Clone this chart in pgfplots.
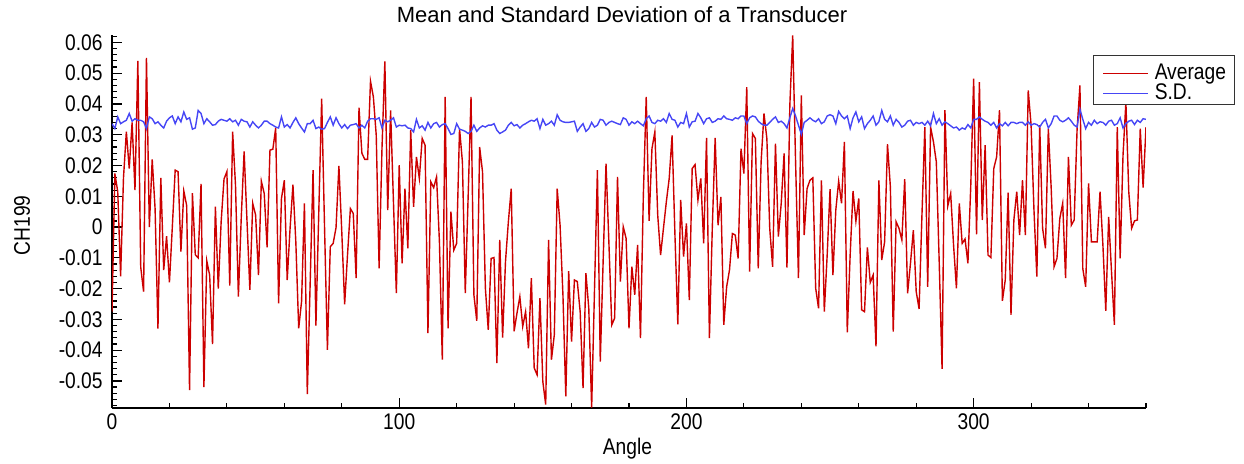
\documentclass[border=0pt]{standalone}
\usepackage{fontspec}
\setmainfont{Liberation Sans}[FakeStretch=0.85]
\newfontfamily\titlefont{Liberation Sans}
\usepackage{pgfplots}
\usepackage{pgfplotstable}
\pgfplotsset{compat=1.18}
\definecolor{avgred}{RGB}{204,0,0}
\definecolor{sdblue}{RGB}{70,70,245}
\pgfplotstableread{
a avg sd
0 -0.0275 0.0336
1 0.0174 0.0320
2 0.0115 0.0358
3 -0.0160 0.0336
4 0.0160 0.0342
5 0.0310 0.0347
6 0.0190 0.0369
7 0.0340 0.0344
8 0.0120 0.0352
9 0.0540 0.0347
10 -0.0130 0.0347
11 -0.0210 0.0342
12 0.0550 0.0320
13 0.0000 0.0358
14 0.0220 0.0352
15 0.0060 0.0336
16 -0.0330 0.0342
17 0.0160 0.0331
18 -0.0140 0.0322
19 -0.0030 0.0344
20 -0.0180 0.0355
21 0.0000 0.0361
22 0.0185 0.0336
23 0.0180 0.0358
24 -0.0080 0.0342
25 0.0117 0.0374
26 0.0070 0.0350
27 -0.0530 0.0355
28 0.0110 0.0318
29 -0.0090 0.0322
30 -0.0100 0.0379
31 0.0140 0.0369
32 -0.0520 0.0336
33 -0.0110 0.0352
34 -0.0156 0.0342
35 -0.0380 0.0331
36 0.0066 0.0333
37 -0.0200 0.0344
38 0.0017 0.0350
39 0.0156 0.0347
40 0.0180 0.0344
41 -0.0190 0.0352
42 0.0310 0.0342
43 0.0136 0.0347
44 -0.0226 0.0331
45 0.0030 0.0350
46 0.0246 0.0344
47 0.0020 0.0342
48 -0.0204 0.0325
49 0.0077 0.0342
50 0.0039 0.0331
51 -0.0156 0.0322
52 0.0149 0.0331
53 0.0109 0.0344
54 -0.0066 0.0344
55 0.0250 0.0336
56 0.0253 0.0331
57 0.0322 0.0325
58 -0.0248 0.0322
59 0.0093 0.0358
60 0.0152 0.0325
61 -0.0172 0.0333
62 -0.0004 0.0322
63 0.0138 0.0340
64 -0.0048 0.0355
65 -0.0329 0.0336
66 -0.0242 0.0322
67 0.0077 0.0309
68 -0.0543 0.0336
69 -0.0180 0.0336
70 0.0185 0.0347
71 -0.0320 0.0320
72 0.0050 0.0325
73 0.0417 0.0318
74 0.0000 0.0320
75 -0.0399 0.0340
76 -0.0064 0.0358
77 -0.0053 0.0331
78 -0.0002 0.0355
79 0.0199 0.0336
80 -0.0015 0.0322
81 -0.0251 0.0333
82 -0.0090 0.0320
83 0.0060 0.0331
84 0.0044 0.0333
85 -0.0166 0.0336
86 0.0388 0.0322
87 0.0240 0.0331
88 0.0220 0.0322
89 0.0220 0.0344
90 0.0474 0.0352
91 0.0423 0.0352
92 0.0298 0.0350
93 -0.0134 0.0355
94 0.0255 0.0322
95 0.0538 0.0347
96 0.0055 0.0342
97 0.0379 0.0347
98 0.0080 0.0355
99 -0.0215 0.0325
100 0.0201 0.0331
101 -0.0118 0.0329
102 0.0125 0.0331
103 -0.0069 0.0322
104 0.0315 0.0320
105 0.0066 0.0309
106 0.0228 0.0350
107 0.0158 0.0322
108 0.0288 0.0329
109 0.0266 0.0315
110 -0.0345 0.0340
111 0.0147 0.0322
112 0.0128 0.0336
113 0.0163 0.0340
114 -0.0048 0.0325
115 -0.0431 0.0333
116 0.0423 0.0336
117 -0.0329 0.0320
118 0.0050 0.0301
119 -0.0075 0.0304
120 -0.0053 0.0336
121 0.0320 0.0318
122 0.0212 0.0315
123 -0.0215 0.0311
124 0.0100 0.0304
125 0.0423 0.0311
126 -0.0220 0.0331
127 -0.0305 0.0311
128 0.0260 0.0322
129 0.0180 0.0329
130 -0.0199 0.0325
131 -0.0334 0.0331
132 -0.0102 0.0331
133 -0.0099 0.0336
134 -0.0442 0.0315
135 -0.0042 0.0304
136 -0.0359 0.0309
137 -0.0112 0.0315
138 0.0017 0.0331
139 0.0125 0.0340
140 -0.0339 0.0329
141 -0.0280 0.0333
142 -0.0226 0.0322
143 -0.0323 0.0331
144 -0.0275 0.0336
145 -0.0394 0.0342
146 -0.0166 0.0347
147 -0.0458 0.0344
148 -0.0480 0.0352
149 -0.0231 0.0320
150 -0.0502 0.0350
151 -0.0577 0.0331
152 -0.0042 0.0336
153 -0.0431 0.0344
154 -0.0350 0.0331
155 0.0125 0.0365
156 0.0006 0.0347
157 -0.0220 0.0342
158 -0.0550 0.0340
159 -0.0143 0.0340
160 -0.0372 0.0342
161 -0.0172 0.0344
162 -0.0177 0.0311
163 -0.0275 0.0325
164 -0.0523 0.0336
165 -0.0150 0.0311
166 -0.0264 0.0320
167 -0.0587 0.0340
168 -0.0200 0.0325
169 0.0185 0.0331
170 -0.0437 0.0350
171 -0.0110 0.0347
172 0.0206 0.0331
173 -0.0050 0.0340
174 -0.0318 0.0344
175 -0.0296 0.0340
176 0.0163 0.0336
177 -0.0177 0.0333
178 0.0001 0.0355
179 -0.0037 0.0350
180 -0.0329 0.0331
181 -0.0129 0.0342
182 -0.0220 0.0336
183 -0.0058 0.0344
184 -0.0361 0.0336
185 0.0104 0.0329
186 0.0423 0.0352
187 0.0020 0.0361
188 0.0255 0.0340
189 0.0309 0.0336
190 0.0039 0.0347
191 -0.0091 0.0344
192 -0.0004 0.0352
193 0.0082 0.0340
194 0.0158 0.0369
195 0.0298 0.0350
196 -0.0026 0.0347
197 -0.0316 0.0325
198 0.0088 0.0340
199 -0.0096 0.0336
200 0.0012 0.0369
201 -0.0237 0.0325
202 0.0190 0.0342
203 0.0203 0.0344
204 0.0088 0.0369
205 0.0158 0.0355
206 -0.0053 0.0336
207 0.0290 0.0352
208 -0.0361 0.0355
209 -0.0004 0.0340
210 0.0290 0.0344
211 0.0006 0.0352
212 0.0098 0.0350
213 -0.0318 0.0361
214 -0.0194 0.0352
215 -0.0139 0.0350
216 -0.0021 0.0347
217 -0.0026 0.0355
218 -0.0102 0.0352
219 0.0255 0.0361
220 0.0174 0.0361
221 0.0455 0.0336
222 -0.0145 0.0355
223 0.0304 0.0361
224 0.0288 0.0358
225 -0.0134 0.0344
226 0.0212 0.0336
227 0.0369 0.0331
228 0.0288 0.0331
229 -0.0004 0.0340
230 -0.0129 0.0350
231 0.0271 0.0358
232 -0.0031 0.0340
233 0.0077 0.0344
234 0.0239 0.0336
235 -0.0132 0.0322
236 0.0396 0.0355
237 0.0623 0.0385
238 0.0212 0.0361
239 -0.0166 0.0331
240 0.0428 0.0301
241 -0.0026 0.0340
242 0.0125 0.0347
243 0.0152 0.0355
244 0.0160 0.0347
245 -0.0199 0.0342
246 -0.0264 0.0352
247 0.0152 0.0336
248 -0.0275 0.0342
249 -0.0091 0.0361
250 0.0123 0.0365
251 -0.0156 0.0361
252 0.0055 0.0336
253 0.0149 0.0376
254 0.0077 0.0361
255 0.0277 0.0352
256 -0.0342 0.0361
257 -0.0091 0.0320
258 0.0117 0.0355
259 0.0019 0.0374
260 0.0093 0.0342
261 -0.0269 0.0358
262 -0.0275 0.0320
263 -0.0066 0.0336
264 -0.0180 0.0347
265 -0.0156 0.0361
266 -0.0388 0.0331
267 0.0152 0.0342
268 -0.0107 0.0379
269 -0.0048 0.0350
270 0.0269 0.0342
271 0.0131 0.0361
272 -0.0340 0.0331
273 0.0017 0.0350
274 -0.0004 0.0340
275 -0.0042 0.0325
276 0.0156 0.0331
277 -0.0215 0.0344
278 -0.0118 0.0347
279 -0.0010 0.0331
280 -0.0210 0.0340
281 -0.0266 0.0336
282 0.0039 0.0340
283 0.0325 0.0331
284 -0.0194 0.0344
285 0.0325 0.0329
286 0.0277 0.0369
287 0.0212 0.0336
288 -0.0112 0.0352
289 -0.0461 0.0331
290 0.0380 0.0342
291 0.0069 0.0336
292 0.0109 0.0329
293 -0.0058 0.0322
294 -0.0199 0.0325
295 0.0077 0.0315
296 -0.0053 0.0322
297 -0.0039 0.0318
298 -0.0118 0.0333
299 0.0136 0.0322
300 0.0482 0.0350
301 -0.0024 0.0350
302 0.0471 0.0358
303 0.0023 0.0350
304 0.0266 0.0344
305 -0.0091 0.0340
306 -0.0099 0.0331
307 0.0190 0.0340
308 0.0228 0.0322
309 0.0380 0.0336
310 -0.0240 0.0329
311 -0.0172 0.0340
312 0.0112 0.0329
313 -0.0285 0.0340
314 0.0023 0.0340
315 0.0115 0.0336
316 -0.0026 0.0340
317 0.0152 0.0340
318 -0.0026 0.0331
319 0.0444 0.0342
320 0.0331 0.0331
321 0.0055 0.0336
322 -0.0161 0.0333
323 0.0331 0.0325
324 -0.0004 0.0340
325 -0.0069 0.0350
326 0.0320 0.0322
327 0.0125 0.0336
328 -0.0129 0.0361
329 -0.0102 0.0361
330 0.0028 0.0347
331 0.0077 0.0342
332 -0.0166 0.0347
333 0.0228 0.0355
334 0.0006 0.0344
335 0.0023 0.0331
336 0.0315 0.0325
337 0.0460 0.0383
338 -0.0135 0.0350
339 -0.0194 0.0320
340 0.0142 0.0340
341 -0.0048 0.0331
342 -0.0048 0.0347
343 -0.0048 0.0336
344 0.0115 0.0342
345 -0.0058 0.0340
346 -0.0272 0.0331
347 0.0033 0.0344
348 -0.0145 0.0347
349 -0.0318 0.0331
350 0.0325 0.0336
351 -0.0102 0.0355
352 0.0233 0.0322
353 0.0406 0.0336
354 0.0115 0.0344
355 -0.0004 0.0347
356 0.0020 0.0333
357 0.0023 0.0347
358 0.0320 0.0340
359 0.0128 0.0352
360 0.0325 0.0350
}\datatable
\begin{document}
\begin{tikzpicture}
\path[use as bounding box] (0,0) rectangle (622pt,231.5pt);
\begin{axis}[
  name=ax,
  at={(56pt,27.5pt)}, anchor=south west,
  scale only axis, width=517pt, height=186.5pt,
  xmin=0, xmax=360, ymin=-0.0588, ymax=0.0624,
  scaled y ticks=false, scaled x ticks=false,
  axis x line*=bottom, axis y line*=left,
  axis line style={black, line width=1pt},
  xtick={0,100,200,300}, xticklabels={0,100,200,300},
  minor xtick={20,40,60,80,120,140,160,180,220,240,260,280,320,340,360},
  ytick={-0.05,-0.04,-0.03,-0.02,-0.01,0,0.01,0.02,0.03,0.04,0.05,0.06},
  yticklabels={-0.05,-0.04,-0.03,-0.02,-0.01,0,0.01,0.02,0.03,0.04,0.05,0.06},
  minor ytick={-0.058,-0.056,...,0.062},
  tick align=inside,
  major tick length=5pt, minor tick length=2.5pt,
  tick style={black, line width=0.6pt},
  tick label style={font=\fontsize{11.3}{12}\selectfont},
  xticklabel style={anchor=north, inner sep=0pt, yshift=-2.5pt},
  yticklabel style={anchor=east, inner sep=0pt, xshift=-4.5pt},
  xlabel={Angle},
  xlabel style={font=\fontsize{11.3}{12}\selectfont, at={(0.4985,0)}, anchor=base, yshift=-23pt},
  ylabel={CH199},
  ylabel style={font=\fontsize{11.3}{12}\selectfont, at={(-0.087,0.49)}, anchor=center},
  legend style={at={(0.9487,0.9464)}, anchor=north west, draw=black!80, line width=0.5pt,
    fill=white, font=\fontsize{11.3}{12}\selectfont, inner xsep=4.5pt, inner ysep=1pt,
    row sep=-2.5pt, nodes={inner sep=0pt}},
  legend cell align=left,
  legend image code/.code={\path (0pt,7.5pt); \draw[#1, line width=0.6pt] (0pt,0pt) -- (22.5pt,0pt);},
]
\addplot[avgred, line width=0.7pt] table[x=a, y=avg] {\datatable};
\addlegendentry{\hspace{3pt}Average}
\addplot[sdblue, line width=0.7pt] table[x=a, y=sd] {\datatable};
\addlegendentry{\hspace{3pt}S.D.}
\end{axis}
\node[anchor=base, font=\titlefont\fontsize{11}{12}\selectfont, inner sep=0pt] at (311pt,220.5pt) {Mean and Standard Deviation of a Transducer};
\end{tikzpicture}
\end{document}
